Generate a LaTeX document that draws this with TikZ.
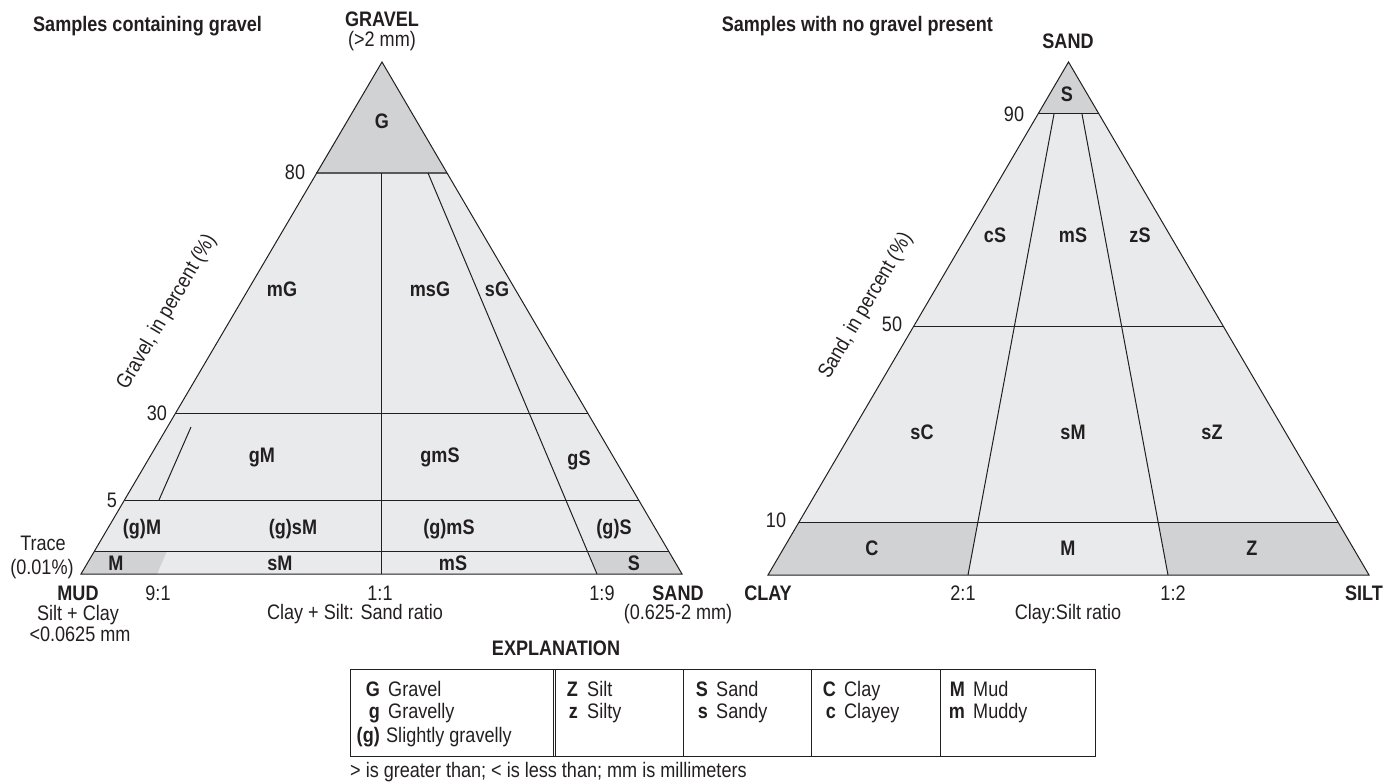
\documentclass[tikz,border=0pt]{standalone}
\usepackage{fontspec}
\setmainfont{Liberation Sans}[FakeStretch=0.86]
\definecolor{light}{HTML}{E9EAEB}
\definecolor{dark}{HTML}{D1D2D4}
\definecolor{ink}{HTML}{231F20}
\definecolor{midink}{HTML}{58595B}
\begin{document}
\begin{tikzpicture}[x=1pt,y=-1pt,
  ln/.style={draw=ink, line width=1pt},
  lab/.style={font=\fontsize{21}{25}\selectfont\bfseries, text=ink, inner sep=0pt, anchor=base},
  txt/.style={font=\fontsize{21}{25}\selectfont, text=ink, inner sep=0pt, anchor=base}]
\useasboundingbox (0,0) rectangle (1390,783);
% ---------------- left triangle ----------------
\coordinate (LA) at (382,62); \coordinate (LL) at (81,574); \coordinate (LR) at (682,574);
\coordinate (L80a) at (316,173); \coordinate (L80b) at (447,173);
\coordinate (L30a) at (175,414); \coordinate (L30b) at (588,414);
\coordinate (L5a) at (124.5,500); \coordinate (L5b) at (638.5,500);
\coordinate (LTa) at (94.5,551); \coordinate (LTb) at (668.5,551);
\coordinate (Lv1) at (381.5,173); \coordinate (Lv2) at (381.5,574);
\coordinate (Ls1) at (428,173); \coordinate (Ls2) at (597,574);
\coordinate (Lg1) at (191,427); \coordinate (Lg2) at (159,500);
\fill[light] (LL)--(LA)--(LR)--cycle;
\fill[dark] (LA)--(L80a)--(L80b)--cycle;
\fill[dark] (LL)--(LTa)--(167,551)--(157,574)--cycle;
\fill[dark] (589,551)--(LTb)--(LR)--(Ls2)--cycle;
\draw[ln, draw=midink, line width=1.5pt] (L80a)--(L80b);
\draw[ln] (L30a)--(L30b);
\draw[ln] (L5a)--(L5b);
\draw[ln] (LTa)--(LTb);
\draw[ln] (Lv1)--(Lv2);
\draw[ln] (Ls1)--(Ls2);
\draw[ln] (Lg1)--(Lg2);
\draw[ln] (LL)--(LA)--(LR)--cycle;
\node[lab] (nG) at (382,129) {G};
\node[lab] (nmG) at (282,297) {mG};
\node[lab] (nmsG) at (430,297) {msG};
\node[lab] (nsG) at (497,297) {sG};
\node[lab] (ngM) at (262,462) {gM};
\node[lab] (ngmS) at (440,462) {gmS};
\node[lab] (ngS) at (579,465) {gS};
\node[lab] (npgM) at (142,534) {(g)M};
\node[lab] (npgsM) at (293,534) {(g)sM};
\node[lab] (npgmS) at (449,534) {(g)mS};
\node[lab] (npgS) at (614,534) {(g)S};
\node[lab] (nM) at (116,570) {M};
\node[lab] (nsM) at (280,570) {sM};
\node[lab] (nmS) at (453,570) {mS};
\node[lab] (nS) at (634,570) {S};
\node[lab] (gravel) at (382,27) {GRAVEL};
\node[txt] (gravelmm) at (382,47) {(>2 mm)};
\node[txt] (t80) at (295,180) {80};
\node[txt] (t30) at (157,421) {30};
\node[txt] (t5) at (112,507) {5};
\node[txt] (trace) at (43,550) {Trace};
\node[txt] (tracep) at (42,574) {(0.01\%)};
\node[lab] (mud) at (78,600) {MUD};
\node[txt] (mud2) at (78,620) {Silt + Clay};
\node[txt] (mud3) at (80,641) {<0.0625 mm};
\node[txt] (r91) at (158,600) {9:1};
\node[txt] (r11) at (380,600) {1:1};
\node[txt] (r19) at (602,600) {1:9};
\node[lab] (sand) at (678,600) {SAND};
\node[txt] (sandmm) at (678,619) {(0.625-2 mm)};
\node[txt] (lratio) at (355,619) {Clay + Silt: Sand ratio};
\node[txt, anchor=center, rotate=59.6] (laxis) at (167,312) {Gravel, in percent (\%)};
\node[lab, anchor=base west] (ltitle) at (33,32) {Samples containing gravel};
% ---------------- right triangle ----------------
\coordinate (RA) at (1068.5,62); \coordinate (RL) at (768,575); \coordinate (RR) at (1369,575);
\coordinate (R90a) at (1038,114); \coordinate (R90b) at (1099,114);
\coordinate (R50a) at (913,327); \coordinate (R50b) at (1224,327);
\coordinate (R10a) at (799,522); \coordinate (R10b) at (1338,522);
\coordinate (Rd1a) at (1054,114); \coordinate (Rd1b) at (968,575);
\coordinate (Rd2a) at (1082,114); \coordinate (Rd2b) at (1168,575);
\fill[light] (RL)--(RA)--(RR)--cycle;
\fill[dark] (RA)--(R90a)--(R90b)--cycle;
\fill[dark] (RL)--(R10a)--(978,522)--(Rd1b)--cycle;
\fill[dark] (1158,522)--(R10b)--(RR)--(Rd2b)--cycle;
\draw[ln] (R90a)--(R90b);
\draw[ln] (R50a)--(R50b);
\draw[ln] (R10a)--(R10b);
\draw[ln] (Rd1a)--(Rd1b);
\draw[ln] (Rd2a)--(Rd2b);
\draw[ln] (RL)--(RA)--(RR)--cycle;
\node[lab] (rsand) at (1068,49) {SAND};
\node[lab] (rS) at (1067,102) {S};
\node[txt] (t90) at (1014,122) {90};
\node[txt] (t50) at (892,332) {50};
\node[txt] (t10) at (776,527) {10};
\node[lab] (rcS) at (995,243) {cS};
\node[lab] (rmS) at (1073,243) {mS};
\node[lab] (rzS) at (1140,243) {zS};
\node[lab] (rsC) at (922,440) {sC};
\node[lab] (rsM) at (1073,440) {sM};
\node[lab] (rsZ) at (1212,440) {sZ};
\node[lab] (rC) at (872,555) {C};
\node[lab] (rM) at (1068,555) {M};
\node[lab] (rZ) at (1252,555) {Z};
\node[lab] (clay) at (768,600) {CLAY};
\node[txt] (r21) at (963,600) {2:1};
\node[txt] (r12) at (1173,600) {1:2};
\node[lab] (silt) at (1364,600) {SILT};
\node[txt] (rratio) at (1068,619) {Clay:Silt ratio};
\node[txt, anchor=center, rotate=59.6] (raxis) at (866,306) {Sand, in percent (\%)};
\node[lab, anchor=base east] (rtitle) at (993,32) {Samples with no gravel present};
% ---------------- explanation ----------------
\node[lab] (expl) at (556,655) {EXPLANATION};
\node[draw=ink, line width=0.8pt, inner sep=0pt, minimum width=745pt, minimum height=87pt, anchor=north west] (box) at (350,669) {};
\draw[ink, line width=0.8pt] (553,669)--(553,756) (555.5,669)--(555.5,756);
\draw[ink, line width=0.8pt] (683,669)--(683,756);
\draw[ink, line width=0.8pt] (811,669)--(811,756);
\draw[ink, line width=0.8pt] (940,669)--(940,756);
\node[lab, anchor=base east] (kG) at (380,696) {G};
\node[txt, anchor=base west] (kGt) at (388,696) {Gravel};
\node[lab, anchor=base east] (kg) at (380,718) {g};
\node[txt, anchor=base west] (kgt) at (388,718) {Gravelly};
\node[lab, anchor=base east] (kpg) at (380,742) {(g)};
\node[txt, anchor=base west] (kpgt) at (386,742) {Slightly gravelly};
\node[lab, anchor=base east] (kZ) at (578,696) {Z};
\node[txt, anchor=base west] (kZt) at (587,696) {Silt};
\node[lab, anchor=base east] (kz) at (578,718) {z};
\node[txt, anchor=base west] (kzt) at (587,718) {Silty};
\node[lab, anchor=base east] (kS) at (708,696) {S};
\node[txt, anchor=base west] (kSt) at (716,696) {Sand};
\node[lab, anchor=base east] (ks) at (708,718) {s};
\node[txt, anchor=base west] (kst) at (716,718) {Sandy};
\node[lab, anchor=base east] (kC) at (836,696) {C};
\node[txt, anchor=base west] (kCt) at (844,696) {Clay};
\node[lab, anchor=base east] (kc) at (836,718) {c};
\node[txt, anchor=base west] (kct) at (844,718) {Clayey};
\node[lab, anchor=base east] (kM) at (965,696) {M};
\node[txt, anchor=base west] (kMt) at (973,696) {Mud};
\node[lab, anchor=base east] (km) at (965,718) {m};
\node[txt, anchor=base west] (kmt) at (973,718) {Muddy};
\node[txt, anchor=base west] (foot) at (350,777) {> is greater than; < is less than; mm is millimeters};
\end{tikzpicture}
\end{document}
